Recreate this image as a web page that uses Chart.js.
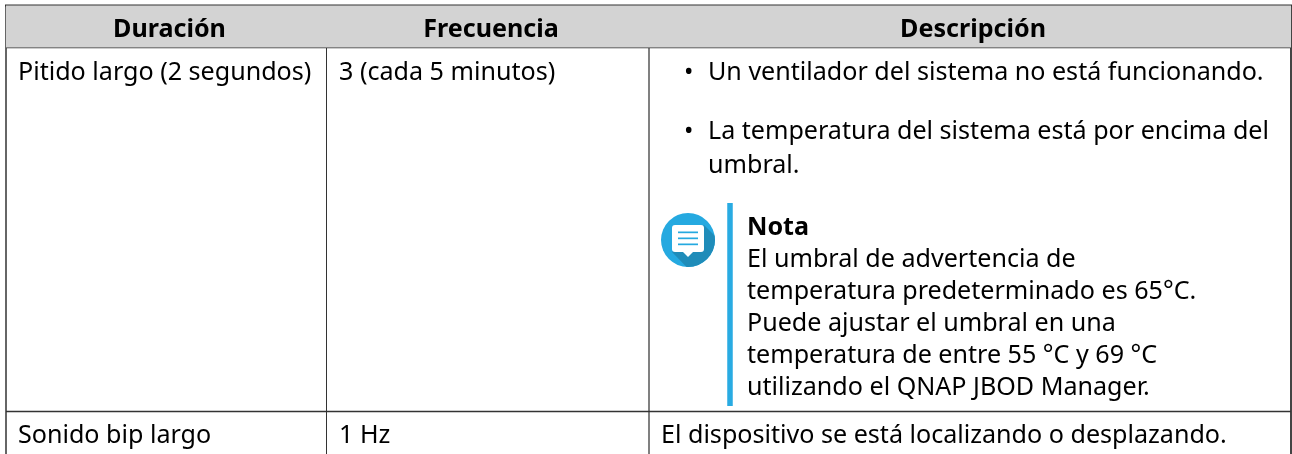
<!DOCTYPE html>
<html>
<head>
<meta charset="utf-8">
<style>
  html, body { margin: 0; padding: 0; background: #fff; }
  canvas { display: block; }
</style>
<script src="https://cdn.jsdelivr.net/npm/chart.js@4"></script>
</head>
<body>
<canvas id="tableChart" width="1292" height="454"></canvas>
<script>
// ---------------------------------------------------------------------------
// Content
// ---------------------------------------------------------------------------

const columnTitles = ['Duración', 'Frecuencia', 'Descripción'];
const durations    = ['Pitido largo (2 segundos)', 'Sonido bip largo'];
const frequencies  = ['3 (cada 5 minutos)', '1 Hz'];
const bullets      = ['Un ventilador del sistema no está funcionando.', 'La temperatura del sistema está por encima del'];
const bulletWrap   = 'umbral.';
const noteTitle    = 'Nota';
const noteLines    = [
  'El umbral de advertencia de',
  'temperatura predeterminado es 65°C.',
  'Puede ajustar el umbral en una',
  'temperatura de entre 55 °C y 69 °C',
  'utilizando el QNAP JBOD Manager.',
];
const lastDescription = 'El dispositivo se está localizando o desplazando.';

// ---------------------------------------------------------------------------
// Layout, in scale units (1 unit = 1 px). Text y values are baselines.
// ---------------------------------------------------------------------------

const colEdges = [6, 327, 649, 1291];
const rowEdges = [5.5, 47.5, 411.5];
const rowText  = [79.5, 443];
const headerY  = 37;
const headerShift = 3;

const FONT = '"Noto Sans", sans-serif';
const SIZE = 25.1;
const INK  = '#000';

function rule(x1, y1, x2, y2, color, width) {
  return {
    type: 'scatter',
    showLine: true,
    pointRadius: 0,
    borderColor: color,
    borderWidth: width,
    data: [{ x: x1, y: y1 }, { x: x2, y: y2 }],
  };
}

const headerBand = {
  type: 'scatter',
  showLine: true,
  pointRadius: 0,
  borderWidth: 0,
  backgroundColor: '#d3d3d3',
  fill: { target: { value: rowEdges[1] } },
  data: [{ x: colEdges[0], y: rowEdges[0] }, { x: colEdges[3], y: rowEdges[0] }],
};

const tableTextPlugin = {
  id: 'tableText',
  afterDatasetsDraw(chart) {
    const { ctx, scales: { x, y } } = chart;
    const put = (str, px, py, weight, align) => {
      ctx.font = `${weight} ${SIZE}px ${FONT}`;
      ctx.textAlign = align || 'left';
      ctx.fillText(str, x.getPixelForValue(px), y.getPixelForValue(py));
    };
    ctx.save();
    ctx.fillStyle = INK;
    ctx.textBaseline = 'alphabetic';

    columnTitles.forEach((t, i) => {
      put(t, (colEdges[i] + colEdges[i + 1]) / 2 + headerShift, headerY, 'bold', 'center');
    });
    durations.forEach((t, i) => put(t, 18, rowText[i], 'normal'));
    frequencies.forEach((t, i) => put(t, 339, rowText[i], 'normal'));

    [79.5, 139].forEach((py, i) => {
      put('•', 684, py, 'normal');
      put(bullets[i], 708, py, 'normal');
    });
    put(bulletWrap, 708, 172.5, 'normal');

    put(noteTitle, 747, 234.5, 'bold');
    [267, 299, 331, 363, 395].forEach((py, i) => put(noteLines[i], 747, py, 'normal'));
    put(lastDescription, 661, rowText[1], 'normal');

    drawNoteIcon(ctx, x.getPixelForValue(688), y.getPixelForValue(240));
    ctx.restore();
  },
};

function drawNoteIcon(ctx, cx, cy) {
  ctx.save();
  ctx.beginPath();
  ctx.arc(cx, cy, 27, 0, Math.PI * 2);
  ctx.fillStyle = '#25a9e0';
  ctx.fill();
  ctx.clip();

  // long shadow falling to the lower right of the bubble
  ctx.beginPath();
  ctx.moveTo(cx + 16, cy - 15);
  ctx.lineTo(cx + 46, cy + 15);
  ctx.lineTo(cx + 16, cy + 45);
  ctx.lineTo(cx - 16, cy + 12);
  ctx.closePath();
  ctx.fillStyle = '#1f8cb9';
  ctx.fill();

  // bubble
  ctx.fillStyle = '#fff';
  ctx.beginPath();
  ctx.roundRect(cx - 16, cy - 15, 32, 27, 3);
  ctx.fill();
  ctx.beginPath();
  ctx.moveTo(cx - 5, cy + 12);
  ctx.lineTo(cx, cy + 17);
  ctx.lineTo(cx + 5, cy + 12);
  ctx.closePath();
  ctx.fill();

  // text lines
  ctx.fillStyle = '#25a9e0';
  [-8.5, -2.5, 3.5].forEach(dy => ctx.fillRect(cx - 10, cy + dy, 20, 1.7));
  ctx.restore();
}

new Chart(document.getElementById('tableChart'), {
  type: 'scatter',
  data: {
    datasets: [
      headerBand,
      rule(colEdges[0] - 1, rowEdges[0], colEdges[3] + 1, rowEdges[0], '#333', 2),
      rule(colEdges[0], rowEdges[1], colEdges[3], rowEdges[1], '#333', 1.5),
      rule(colEdges[0], rowEdges[2], colEdges[3], rowEdges[2], '#333', 1.5),
      rule(colEdges[0], rowEdges[0], colEdges[0], 454, '#666', 2),
      rule(colEdges[1] - 0.5, rowEdges[0], colEdges[1] - 0.5, 454, '#333', 1),
      rule(colEdges[2], rowEdges[0], colEdges[2], 454, '#808080', 2),
      rule(colEdges[3], rowEdges[0], colEdges[3], 454, '#444', 2),
      rule(730, 203, 730, 406, '#29abe2', 5.5),
    ],
  },
  plugins: [tableTextPlugin],
  options: {
    responsive: false,
    animation: false,
    layout: { padding: 0 },
    plugins: { legend: { display: false }, tooltip: { enabled: false } },
    scales: {
      x: { type: 'linear', min: 0, max: 1292, display: false },
      y: { type: 'linear', min: 0, max: 454, reverse: true, display: false },
    },
  },
});
</script>
</body>
</html>
